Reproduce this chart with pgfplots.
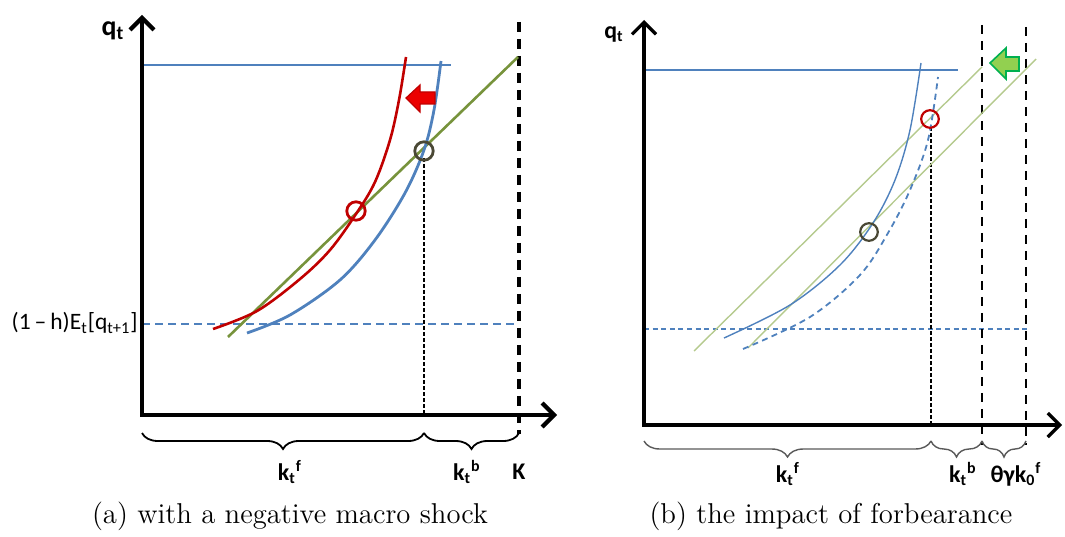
\documentclass[border=0pt]{standalone}
\usepackage{fontspec}
\usepackage{pgfplots}
\pgfplotsset{compat=1.18}
\usetikzlibrary{arrows.meta,decorations.pathreplacing}
\newfontfamily\calibri{Carlito}

\definecolor{cblue}{HTML}{4F81BD}
\definecolor{cred}{HTML}{C00000}
\definecolor{cgreen}{HTML}{77933C}
\definecolor{lgreen}{HTML}{B5CA8E}
\definecolor{cdark}{HTML}{4A4835}
\definecolor{agreen}{HTML}{92D050}
\definecolor{bgreen}{HTML}{00B050}

\tikzset{
  lab/.style={font=\calibri\bfseries\fontsize{12}{14}\selectfont},
  capt/.style={font=\fontsize{14.4}{17}\selectfont, anchor=base},
}

% coordinates are pixels of the 1065x529 picture, y measured downwards
\begin{document}
\begin{tikzpicture}
\begin{axis}[
  width=532.5bp, height=264.5bp, scale only axis,
  xmin=0, xmax=1065, ymin=0, ymax=529, y dir=reverse,
  hide axis, clip=false,
]
\draw[draw=none] (axis cs:0,0) rectangle (axis cs:1065,529);

%% ---------------- panel (a) ----------------
% reference lines
\addplot[cblue, line width=0.8bp] coordinates {(142,65) (451,65)};
\addplot[cblue, line width=1.1bp, dash pattern=on 4bp off 2.5bp] coordinates {(142,324) (518,324)};
\addplot[black, line width=1.7bp, dash pattern=on 5bp off 3.5bp] coordinates {(519,22) (519,434)};
\addplot[black, line width=0.7bp, dash pattern=on 1.8bp off 1.2bp] coordinates {(424,158) (424,415)};

% curves
\addplot[cgreen, line width=1.3bp] coordinates {(228,337) (518,57)};
\addplot[cblue, line width=1.4bp, smooth, tension=0.55] coordinates {
  (247,333) (290,315) (340,280) (375,240) (405,193) (424,150) (434,110) (441,61)};
\addplot[cred, line width=1.3bp, smooth, tension=0.55] coordinates {
  (213,329) (257,311) (300,279) (330,250) (356,214) (375,182) (390,140) (399,100) (406,57)};

% equilibria
\addplot[only marks, mark=o, mark size=4.6bp, mark options={cred, line width=1.4bp}] coordinates {(356,211)};
\addplot[only marks, mark=o, mark size=4.6bp, mark options={cdark, line width=1.4bp}] coordinates {(424,151)};

% shift arrow
\addplot[draw=cred, fill=red!92!black, line width=0.6bp] coordinates {
  (406,98) (420,85) (420,92) (435,92) (435,104) (420,104) (420,112)} --cycle;

% axes
\addplot[black, line width=2.1bp, {Straight Barb[length=6bp,width=12bp]}-{Straight Barb[length=6bp,width=12bp]}]
  coordinates {(142,15) (142,415) (557,415)};

% braces and labels
\draw[decorate, decoration={brace, mirror, amplitude=8bp}, line width=0.9bp]
  (axis cs:142,433) -- (axis cs:424,433);
\draw[decorate, decoration={brace, mirror, amplitude=8bp}, line width=0.9bp]
  (axis cs:424,433) -- (axis cs:519,433);
\node[lab] at (axis cs:290,472) {k\textsubscript{t}\textsuperscript{f}};
\node[lab] at (axis cs:467,472) {k\textsubscript{t}\textsuperscript{b}};
\node[lab] at (axis cs:519,472) {K};
\node[lab, font=\calibri\bfseries\fontsize{14}{16}\selectfont] at (axis cs:113,31) {q\textsubscript{t}};
\node[anchor=east, inner sep=0pt, font=\calibri\fontsize{11.8}{13}\selectfont] at (axis cs:138,323)
  {(1\,–\,h)E\textsubscript{t}[q\textsubscript{t+1}]};
\node[capt] at (axis cs:290,523) {(a) with a negative macro shock};

%% ---------------- panel (b) ----------------
\addplot[cblue, line width=0.6bp] coordinates {(644,70) (958,70)};
\addplot[cblue, line width=0.6bp, dash pattern=on 2.5bp off 1.8bp] coordinates {(644,329) (1027,329)};
\addplot[black, line width=1.3bp, dash pattern=on 4.5bp off 3.5bp] coordinates {(982,25) (982,445)};
\addplot[black, line width=1.3bp, dash pattern=on 4.5bp off 3.5bp] coordinates {(1026,27) (1026,445)};
\addplot[black, line width=0.6bp, dash pattern=on 1.8bp off 1.2bp] coordinates {(931,127) (931,425)};

\addplot[lgreen, line width=0.7bp] coordinates {(694,351) (982,67)};
\addplot[lgreen, line width=0.7bp] coordinates {(748,348) (1036,59)};
\addplot[cblue, line width=0.7bp, smooth, tension=0.55] coordinates {
  (724,338) (790,305) (840,265) (873,223) (895,180) (910,130) (921,63)};
\addplot[cblue, line width=0.9bp, smooth, tension=0.55, dash pattern=on 3bp off 2.2bp] coordinates {
  (743,349) (810,317) (860,275) (888,233) (910,190) (928,140) (938,77)};

\addplot[only marks, mark=o, mark size=4.4bp, mark options={cred, line width=1.1bp}] coordinates {(930,119)};
\addplot[only marks, mark=o, mark size=4.4bp, mark options={cdark, line width=1.1bp}] coordinates {(869,232)};

\addplot[draw=bgreen, fill=agreen, line width=0.8bp] coordinates {
  (990,63) (1006,48) (1006,57) (1019,57) (1019,71) (1006,71) (1006,79)} --cycle;

\addplot[black, line width=1.6bp, {Straight Barb[length=6bp,width=12bp]}-{Straight Barb[length=6bp,width=12bp]}]
  coordinates {(644,20) (644,425) (1062,425)};

\draw[decorate, decoration={brace, mirror, amplitude=8bp}, line width=0.7bp, black!65]
  (axis cs:644,441) -- (axis cs:931,441);
\draw[decorate, decoration={brace, mirror, amplitude=8bp}, line width=0.7bp, black!65]
  (axis cs:931,441) -- (axis cs:982,441);
\draw[decorate, decoration={brace, mirror, amplitude=8bp}, line width=0.7bp, black!65]
  (axis cs:982,441) -- (axis cs:1026,441);
\node[lab] at (axis cs:788,474) {k\textsubscript{t}\textsuperscript{f}};
\node[lab] at (axis cs:963,474) {k\textsubscript{t}\textsuperscript{b}};
\node[lab] at (axis cs:1016,474) {θγk\textsubscript{0}\textsuperscript{f}};
\node[lab] at (axis cs:614,34) {q\textsubscript{t}};
\node[capt] at (axis cs:831,523) {(b) the impact of forbearance};
\end{axis}
\end{tikzpicture}
\end{document}
